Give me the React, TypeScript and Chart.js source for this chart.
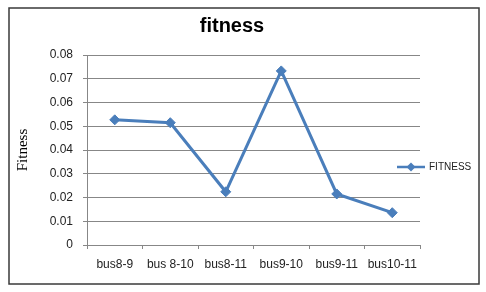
import React, { useEffect, useRef } from 'react';
import { Chart, registerables } from 'chart.js';

Chart.register(...registerables);

const categories = ['bus8-9', 'bus 8-10', 'bus8-11', 'bus9-10', 'bus9-11', 'bus10-11'];
const fitnessValues = [0.0527, 0.0515, 0.0224, 0.0733, 0.0215, 0.0136];
const yTickLabels = ['0', '0.01', '0.02', '0.03', '0.04', '0.05', '0.06', '0.07', '0.08'];
const seriesName = 'FITNESS';
const chartTitle = 'fitness';
const yAxisTitle = 'Fitness';

const BLUE = '#4A7EBB';
const GRID = '#878787';
const FONT = "'Liberation Sans', Arial, sans-serif";

function makeLegendMarker(): HTMLCanvasElement {
  const mk = document.createElement('canvas');
  mk.width = 28;
  mk.height = 12;
  const c = mk.getContext('2d')!;
  c.strokeStyle = BLUE;
  c.lineWidth = 2.5;
  c.beginPath();
  c.moveTo(0, 6);
  c.lineTo(28, 6);
  c.stroke();
  c.fillStyle = BLUE;
  c.beginPath();
  c.moveTo(14, 1.5);
  c.lineTo(18.5, 6);
  c.lineTo(14, 10.5);
  c.lineTo(9.5, 6);
  c.closePath();
  c.fill();
  return mk;
}

const framePlugin = {
  id: 'frame',
  beforeDraw(chart: any) {
    const ctx = chart.ctx;
    ctx.save();
    ctx.fillStyle = '#ffffff';
    ctx.fillRect(0, 0, chart.width, chart.height);
    ctx.restore();
  },
  afterDraw(chart: any) {
    const ctx = chart.ctx;
    ctx.save();
    ctx.strokeStyle = '#3a3a3a';
    ctx.lineWidth = 1.5;
    ctx.strokeRect(9, 8, 470, 276);
    ctx.restore();
  },
  afterLayout(chart: any) {
    const lg = chart.legend;
    if (lg) {
      lg.left -= 32;
      lg.right = chart.width;
      lg.width = lg.right - lg.left;
      lg.top += 21;
      lg.bottom += 21;
    }
    const tb = chart.titleBlock;
    if (tb) {
      tb.left -= 11;
      tb.right -= 11;
    }
  },
};

export default function App() {
  const ref = useRef<HTMLCanvasElement>(null);
  useEffect(() => {
    if (!ref.current) return;
    const marker = makeLegendMarker();
    const chart = new Chart(ref.current, {
      type: 'line',
      data: {
        labels: categories,
        datasets: [
          {
            label: seriesName,
            data: fitnessValues,
            borderColor: BLUE,
            backgroundColor: BLUE,
            borderWidth: 3,
            tension: 0,
            pointStyle: 'rectRot',
            pointRadius: 5,
            pointBackgroundColor: BLUE,
            pointBorderColor: BLUE,
            pointBorderWidth: 1,
          },
        ],
      },
      options: {
        responsive: false,
        animation: false,
        layout: { padding: 0 },
        plugins: {
          title: {
            display: true,
            text: chartTitle,
            color: '#000000',
            font: { family: FONT, size: 20, weight: 'bold' },
            padding: { top: 14, bottom: 17 },
          },
          legend: {
            display: true,
            position: 'right',
            maxWidth: 66,
            labels: {
              usePointStyle: true,
              pointStyle: marker as any,
              pointStyleWidth: 26,
              boxWidth: 26,
              color: '#222222',
              font: { family: FONT, size: 10 },
              padding: 10,
            },
          },
          tooltip: { enabled: false },
        },
        scales: {
          x: {
            type: 'category',
            offset: true,
            afterFit(scale: any) {
              scale.height = 47;
            },
            grid: {
              display: true,
              drawOnChartArea: false,
              drawTicks: true,
              tickLength: 4,
              offset: true,
              color: GRID,
            },
            border: { display: true, color: GRID, width: 1 },
            ticks: {
              color: '#222222',
              font: { family: FONT, size: 12 },
              padding: 8,
              maxRotation: 0,
              autoSkip: false,
            },
          },
          y: {
            min: 0,
            max: 0.08,
            afterFit(scale: any) {
              scale.width = 87;
            },
            ticks: {
              stepSize: 0.01,
              color: '#222222',
              font: { family: FONT, size: 12 },
              padding: 10,
              callback: (_v: any, i: number) => yTickLabels[i],
            },
            grid: {
              display: true,
              drawTicks: true,
              tickLength: 4,
              color: GRID,
            },
            border: { display: true, color: GRID, width: 1 },
            title: {
              display: true,
              text: yAxisTitle,
              color: '#000000',
              font: { family: "'Liberation Serif', 'Times New Roman', serif", size: 15 },
              padding: { top: 14, bottom: 0 },
            },
          },
        },
      },
      plugins: [framePlugin],
    });
    return () => chart.destroy();
  }, []);
  return (
    <div style={{ position: 'fixed', left: 0, top: 0, width: 486, height: 292 }}>
      <canvas ref={ref} width={486} height={292} style={{ display: 'block' }} />
    </div>
  );
}
